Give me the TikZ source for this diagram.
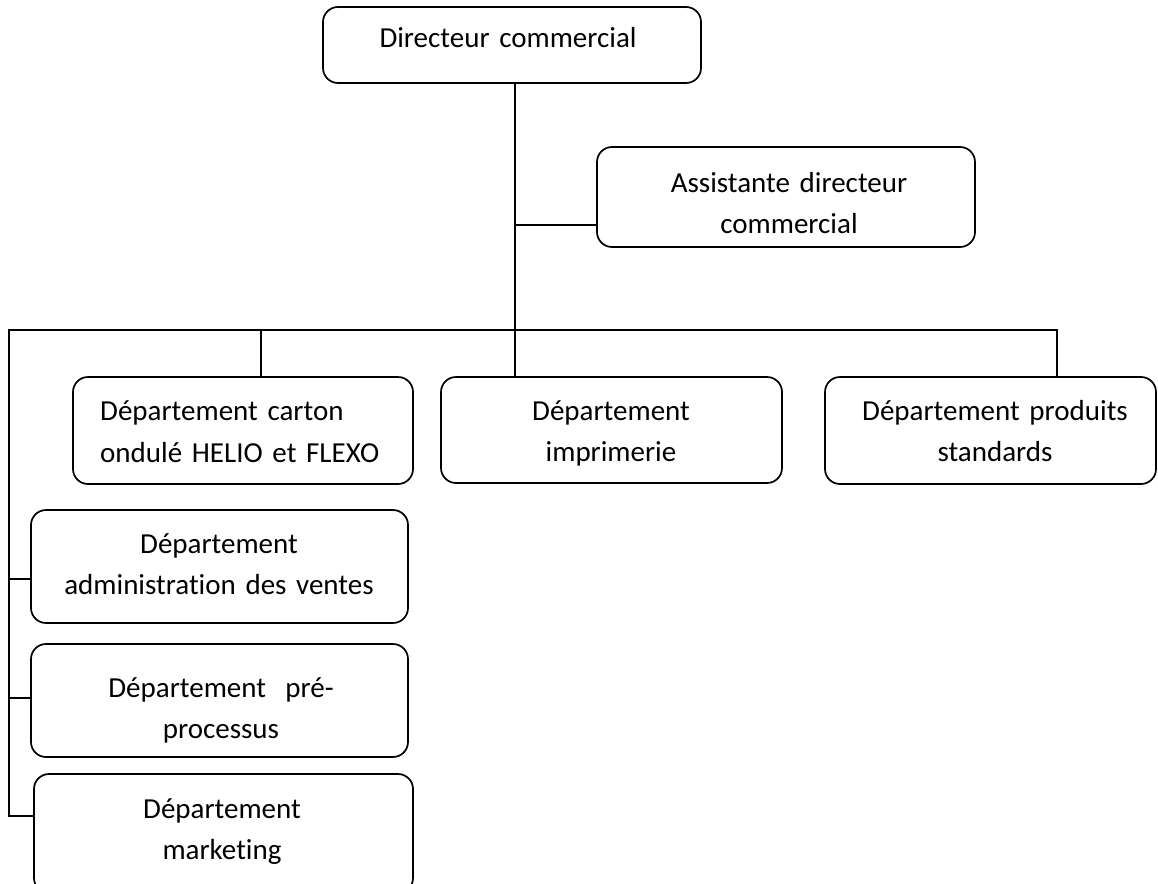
\documentclass[tikz,border=0pt]{standalone}
\usepackage{fontspec}
\setmainfont{Carlito}[Ligatures=NoCommon]
\begin{document}
\begin{tikzpicture}[x=1pt,y=-1pt,
  orgbox/.style={draw, line width=1.7pt, rounded corners=15pt, inner sep=0pt},
  conn/.style={draw, line width=1.7pt, line join=miter},
  lbl/.style={inner sep=0pt, text width=390pt, align=center, anchor=base,
    font=\fontsize{29}{41}\selectfont},
  lbll/.style={inner sep=0pt, text width=330pt, align=left, anchor=base west,
    font=\fontsize{29}{42}\selectfont}]
\useasboundingbox (0,0) rectangle (1158,883);

% boxes
\node[orgbox, minimum width=378pt, minimum height=76pt]  (dir)    at (512,45) {};
\node[orgbox, minimum width=378pt, minimum height=100pt] (asst)   at (786,197) {};
\node[orgbox, minimum width=340pt, minimum height=107pt] (carton) at (243,430.5) {};
\node[orgbox, minimum width=341pt, minimum height=106pt] (imp)    at (611.5,430) {};
\node[orgbox, minimum width=331pt, minimum height=107pt] (prod)   at (990.5,430.5) {};
\node[orgbox, minimum width=377pt, minimum height=113pt] (adm)    at (219.5,566.5) {};
\node[orgbox, minimum width=377pt, minimum height=113pt] (pre)    at (219.5,700.5) {};
\node[orgbox, minimum width=379pt, minimum height=119pt] (mkt)    at (223.5,833.5) {};

% texts
\node[lbl] (tdir)    at (508,48)  {Directeur commercial};
\node[lbl] (tasst)   at (789,192) {Assistante directeur\\commercial};
\node[lbll] (tcarton) at (100,420) {Département carton\\ondulé HELIO et FLEXO};
\node[lbl] (timp)    at (611,420) {Département\\imprimerie};
\node[lbl] (tprod)   at (995,420) {Département produits\\standards};
\node[lbl] (tadm)    at (219,553) {Département\\administration des ventes};
\node[lbl] (tpre)    at (221,697) {Département\ \ pré-\\processus};
\node[lbl] (tmkt)    at (222,818) {Département\\marketing};

% junction coordinates
\coordinate (sp) at (515,330);
\coordinate (aj) at (515,225);
\coordinate (bl) at (9,330);
\coordinate (br) at (1057,330);
\coordinate (cj) at (261,330);
\coordinate (lb) at (9,816);
\coordinate (adj) at (9,579);
\coordinate (prj) at (9,698);

% connectors
\draw[conn] (dir.south -| sp) -- (sp) -- (sp |- imp.north);
\draw[conn] (aj) -- (aj -| asst.west);
\draw[conn] (lb -| mkt.west) -- (lb) -- (bl) -- (br) -- (br |- prod.north);
\draw[conn] (cj) -- (cj |- carton.north);
\draw[conn] (adj) -- (adj -| adm.west);
\draw[conn] (prj) -- (prj -| pre.west);
\end{tikzpicture}
\end{document}
